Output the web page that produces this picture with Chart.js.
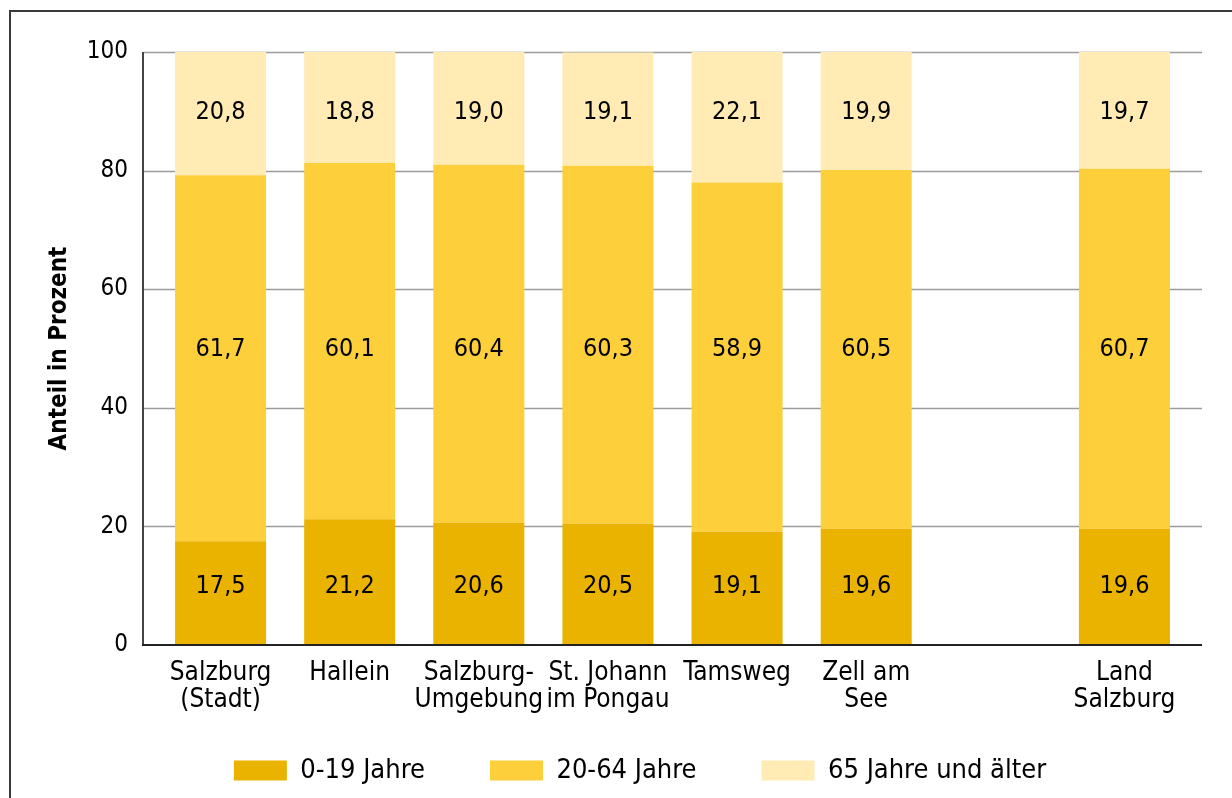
<!DOCTYPE html>
<html>
<head>
<title>Altersstruktur Bezirke</title>
<script src="https://cdn.jsdelivr.net/npm/chart.js@4.4.0/dist/chart.umd.min.js"></script>
<style>
    html, body {
        margin: 0;
        padding: 0;
        width: 1232px;
        height: 798px;
        overflow: hidden;
        background: #fff;
    }
    .frame {
        position: absolute;
        left: 9px;
        top: 10px;
        width: 1400px;
        height: 1000px;
        border: 2px solid #3a3a3a;
        box-sizing: border-box;
    }
    .wrap {
        position: absolute;
        left: 0;
        top: 0;
        width: 1280px;
        height: 798px;
    }
</style>
</head>
<body>
<div class="frame"></div>
<div class="wrap"><canvas id="chart"></canvas></div>
<script>
    // Werte je Bezirk (Anteil in Prozent)
    const bezirke = [
        ['Salzburg', '(Stadt)'],
        'Hallein',
        ['Salzburg-', 'Umgebung'],
        ['St. Johann', 'im Pongau'],
        'Tamsweg',
        ['Zell am', 'See'],
        '',
        ['Land', 'Salzburg']
    ];
    const jung   = [17.5, 21.2, 20.6, 20.5, 19.1, 19.6, null, 19.6];
    const mittel = [61.7, 60.1, 60.4, 60.3, 58.9, 60.5, null, 60.7];
    const alt    = [20.8, 18.8, 19.0, 19.1, 22.1, 19.9, null, 19.7];
    const yTicks = [0, 20, 40, 60, 80, 100];

    const ext = 13; // Achsen ragen etwas über die Balkenfläche hinaus
    const labelHoehe = [10, 50, 90]; // Beschriftungen je Reihe auf gleicher Höhe
    const schrift = '"DejaVu Sans Condensed", "DejaVu Sans", sans-serif';

    Chart.defaults.color = '#000';
    Chart.defaults.font.family = schrift;

    function fmt(v) {
        return v.toFixed(1).replace('.', ',');
    }

    const axesAndLabels = {
        id: 'axesAndLabels',
        beforeDatasetsDraw(chart) {
            const ctx = chart.ctx, area = chart.chartArea, y = chart.scales.y;
            const l = area.left - ext, r = area.right + ext;
            ctx.save();
            ctx.strokeStyle = '#9c9c9c';
            ctx.lineWidth = 1.5;
            yTicks.forEach(function (t) {
                if (t === 0) return;
                const py = Math.round(y.getPixelForValue(t)) + 0.5;
                ctx.beginPath();
                ctx.moveTo(l, py);
                ctx.lineTo(r, py);
                ctx.stroke();
            });
            ctx.strokeStyle = '#444';
            ctx.lineWidth = 2;
            ctx.beginPath();
            ctx.moveTo(l, y.getPixelForValue(100));
            ctx.lineTo(l, y.getPixelForValue(0));
            ctx.stroke();
            ctx.restore();
        },
        afterDatasetsDraw(chart) {
            const ctx = chart.ctx, area = chart.chartArea, y = chart.scales.y;
            ctx.save();
            ctx.strokeStyle = '#222';
            ctx.lineWidth = 2;
            const py = y.getPixelForValue(0);
            ctx.beginPath();
            ctx.moveTo(area.left - ext - 1, py);
            ctx.lineTo(area.right + ext, py);
            ctx.stroke();

            ctx.fillStyle = '#000';
            ctx.font = '25px ' + schrift;
            ctx.textAlign = 'center';
            ctx.textBaseline = 'middle';
            chart.data.datasets.forEach(function (ds, i) {
                const ly = y.getPixelForValue(labelHoehe[i]);
                chart.getDatasetMeta(i).data.forEach(function (bar, j) {
                    const v = ds.data[j];
                    if (v == null) return;
                    ctx.fillText(fmt(v), bar.x, ly + 1);
                });
            });
            ctx.restore();
        }
    };

    new Chart('chart', {
        type: 'bar',
        data: {
            labels: bezirke,
            datasets: [
                { label: '0-19 Jahre', data: jung, backgroundColor: '#E9B300' },
                { label: '20-64 Jahre', data: mittel, backgroundColor: '#FDCF3B' },
                { label: '65 Jahre und älter', data: alt, backgroundColor: '#FFEBB3' }
            ]
        },
        options: {
            responsive: true,
            maintainAspectRatio: false,
            animation: false,
            layout: { padding: { top: 52, bottom: 4, left: 0, right: 0 } },
            datasets: { bar: { barPercentage: 1, categoryPercentage: 0.705 } },
            plugins: {
                tooltip: { enabled: false },
                legend: {
                    position: 'bottom',
                    // leerer Titel mit negativem Abstand: Einträge rücken näher an die Achse,
                    // der waagrechte Abstand zwischen den Einträgen bleibt groß
                    title: {
                        display: true,
                        text: '',
                        font: { size: 1, lineHeight: 1 },
                        padding: { top: -30, bottom: 0 }
                    },
                    labels: {
                        boxWidth: 53,
                        boxHeight: 20,
                        padding: 65,
                        font: { size: 27 },
                        color: '#000'
                    }
                }
            },
            scales: {
                x: {
                    stacked: true,
                    grid: { display: false },
                    border: { display: false },
                    ticks: {
                        padding: 7,
                        maxRotation: 0,
                        autoSkip: false,
                        font: { size: 26, lineHeight: 1.04 }
                    },
                    afterFit: function (s) { s.height = 76; }
                },
                y: {
                    stacked: true,
                    min: 0,
                    max: 100,
                    grid: { display: false },
                    border: { display: false },
                    ticks: {
                        stepSize: 20,
                        padding: 20,
                        font: { size: 24 }
                    },
                    title: {
                        display: true,
                        text: 'Anteil in Prozent',
                        font: { size: 24, weight: 'bold' },
                        padding: { top: 45, bottom: 0 }
                    },
                    afterFit: function (s) { s.width = 156; }
                },
                y2: {
                    position: 'right',
                    min: 0,
                    max: 100,
                    grid: { display: false },
                    border: { display: false },
                    ticks: { display: false },
                    afterFit: function (s) { s.width = 91; }
                }
            }
        },
        plugins: [axesAndLabels]
    });
</script>
</body>
</html>
